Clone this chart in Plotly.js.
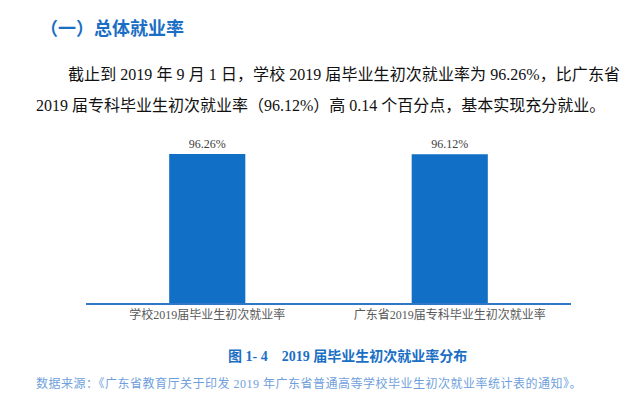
<!DOCTYPE html>
<html>
<head>
<meta charset="utf-8">
<script src="https://cdn.plot.ly/plotly-3.0.1.min.js"></script>
<style>
  html, body { margin:0; padding:0; background:#fff; }
  body { width:642px; height:408px; position:relative; overflow:hidden; }
  .t { position:absolute; white-space:nowrap; }
  #chart { position:absolute; left:0; top:0; width:642px; height:408px; }
  .serif { font-family: "Liberation Serif", "Noto Sans CJK SC", serif; }
</style>
</head>
<body>
<div id="chart"></div>
<div class="t" style="left:40px; top:14px; font-family:'Noto Sans CJK SC'; font-weight:bold; font-size:18px; color:#1a6fc4;">（一）总体就业率</div>
<div class="t serif" style="left:68px; top:61px; width:552px; font-size:16px; color:#111; text-align:justify; text-align-last:justify;">截止到 2019 年 9 月 1 日，学校 2019 届毕业生初次就业率为 96.26%，比广东省</div>
<div class="t serif" style="left:36px; top:92px; font-size:16px; color:#111;">2019 届专科毕业生初次就业率（96.12%）高 0.14 个百分点，基本实现充分就业。</div>
<div class="t serif" style="left:228px; top:345px; font-size:14px; font-weight:bold; color:#1a6fc4;">图 1- 4&nbsp;&nbsp;&nbsp;&nbsp;2019 届毕业生初次就业率分布</div>
<div class="t serif" style="left:36px; top:374px; font-size:12px; letter-spacing:0.5px; color:#6f9fdc;">数据来源：《广东省教育厅关于印发 2019 年广东省普通高等学校毕业生初次就业率统计表的通知》。</div>
<script>
const categories = ["学校2019届毕业生初次就业率", "广东省2019届专科毕业生初次就业率"];
const values = [96.26, 96.12];
const valueLabels = ["96.26%", "96.12%"];

Plotly.newPlot("chart", [{
  type: "bar",
  x: categories,
  y: values,
  text: valueLabels,
  textposition: "outside",
  cliponaxis: false,
  textfont: {family: "Liberation Serif", size: 12, color: "#404040"},
  marker: {color: "#126fc6"},
  hoverinfo: "none"
}], {
  width: 642, height: 408,
  paper_bgcolor: "rgba(0,0,0,0)",
  plot_bgcolor: "rgba(0,0,0,0)",
  margin: {l: 86, r: 71, t: 130, b: 105},
  bargap: 0.686,
  showlegend: false,
  xaxis: {
    showline: true, linecolor: "#2f78c8", linewidth: 1.5,
    ticks: "", showgrid: false, zeroline: false,
    tickfont: {family: "Liberation Serif, Noto Sans CJK SC", size: 12, color: "#595959"}
  },
  yaxis: {
    range: [0, 111.76], visible: false, showgrid: false, zeroline: false
  }
}, {staticPlot: true, displayModeBar: false});
</script>
</body>
</html>
